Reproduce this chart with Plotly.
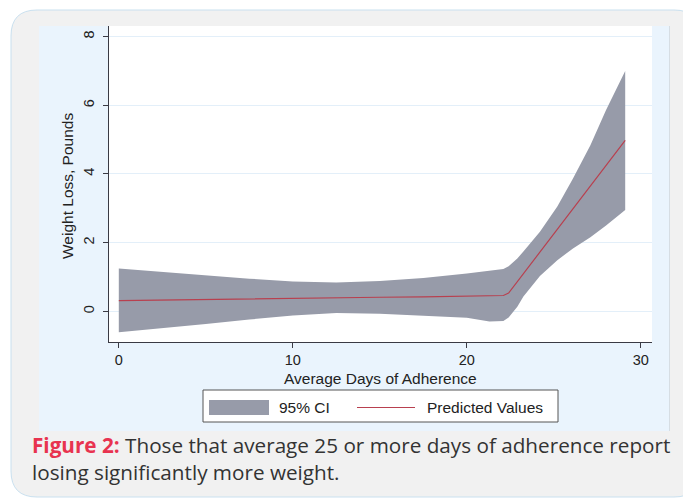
import plotly.graph_objects as go

# Average days of adherence (x) with the fitted prediction and its 95% CI
days = [0, 2.5, 5, 7.5, 10, 12.5, 15, 17.5, 20, 21.3, 22.1, 22.4, 22.9,
        23.25, 24.2, 25.2, 26.1, 27.1, 28.0, 29.1]
predicted = [0.31, 0.33, 0.34, 0.36, 0.38, 0.39, 0.41, 0.42, 0.44, 0.45, 0.46, 0.53, 0.86,
             1.10, 1.73, 2.39, 2.99, 3.65, 4.25, 4.98]
ci_upper = [1.25, 1.15, 1.04, 0.95, 0.87, 0.84, 0.88, 0.97, 1.10, 1.18, 1.23, 1.31, 1.54,
            1.74, 2.32, 3.05, 3.87, 4.84, 5.86, 7.00]
ci_lower = [-0.61, -0.50, -0.37, -0.24, -0.12, -0.05, -0.07, -0.13, -0.19, -0.30, -0.28, -0.18, 0.13,
            0.43, 1.03, 1.49, 1.83, 2.16, 2.50, 2.95]

x_ticks = [0, 10, 20, 30]
y_ticks = [0, 2, 4, 6, 8]

x_title = "Average Days of Adherence"
y_title = "Weight Loss, Pounds"
legend_labels = ["95% CI", "Predicted Values"]
caption_lead = "Figure 2:"
caption_line1 = " Those that average 25 or more days of adherence report"
caption_line2 = "losing significantly more weight."

CI_FILL = "#979ba9"
LINE_RED = "#b8404f"
PANEL = "#eaf4fd"
CARD = "#f1f1f1"
GRID = "#e3eff9"
AXIS = "#3a3a44"

W, H = 683, 500
L, R, T, B = 109, 652, 26, 342   # plot area in pixels


def px_x(p):
    return (p - L) / (R - L)


def px_y(p):
    return (B - p) / (B - T)


fig = go.Figure()

fig.add_trace(go.Scatter(x=days, y=ci_lower, mode="lines", line=dict(width=0),
                         hoverinfo="skip", showlegend=False))
fig.add_trace(go.Scatter(x=days, y=ci_upper, mode="lines", line=dict(width=0),
                         fill="tonexty", fillcolor=CI_FILL, name=legend_labels[0],
                         showlegend=False))
fig.add_trace(go.Scatter(x=days, y=predicted, mode="lines",
                         line=dict(color=LINE_RED, width=1.2),
                         name=legend_labels[1], showlegend=False))

shapes = []
# rounded card behind everything
x0, y0, x1, y1, r = px_x(11), px_y(10), px_x(700), px_y(497), 26
rx = r / (R - L)
ry = r / (B - T)
card_path = (f"M {x0 + rx} {y0} L {x1 - rx} {y0} Q {x1} {y0} {x1} {y0 - ry} "
             f"L {x1} {y1 + ry} Q {x1} {y1} {x1 - rx} {y1} "
             f"L {x0 + rx} {y1} Q {x0} {y1} {x0} {y1 + ry} "
             f"L {x0} {y0 - ry} Q {x0} {y0} {x0 + rx} {y0} Z")
shapes.append(dict(type="path", xref="paper", yref="paper", path=card_path,
                   fillcolor=CARD, line=dict(color="#c9e0ef", width=1), layer="below"))
# light blue graph region
shapes.append(dict(type="rect", xref="paper", yref="paper",
                   x0=px_x(39), x1=px_x(669), y0=px_y(431), y1=px_y(26),
                   fillcolor=PANEL, line=dict(width=0), layer="below"))
shapes.append(dict(type="line", xref="paper", yref="paper",
                   x0=px_x(669.5), x1=px_x(669.5), y0=px_y(431), y1=px_y(26),
                   line=dict(color="#d6dde3", width=1), layer="below"))
# white plotting region
shapes.append(dict(type="rect", xref="paper", yref="paper",
                   x0=0, x1=1, y0=0, y1=1,
                   fillcolor="white", line=dict(width=0), layer="below"))
# legend box
shapes.append(dict(type="rect", xref="paper", yref="paper",
                   x0=px_x(203), x1=px_x(558), y0=px_y(422), y1=px_y(390),
                   fillcolor="white", line=dict(color="#555", width=1)))
shapes.append(dict(type="rect", xref="paper", yref="paper",
                   x0=px_x(209), x1=px_x(269), y0=px_y(415), y1=px_y(400),
                   fillcolor=CI_FILL, line=dict(width=0)))
shapes.append(dict(type="line", xref="paper", yref="paper",
                   x0=px_x(357), x1=px_x(415), y0=px_y(407.5), y1=px_y(407.5),
                   line=dict(color=LINE_RED, width=1.2)))

tick_font = dict(family="Liberation Sans, Arial, sans-serif", size=14.5, color="#222")
label_font = dict(family="Liberation Sans, Arial, sans-serif", size=15.5, color="#222")
caption_font = dict(family="Open Sans, sans-serif", size=20.7, color="#333")

annotations = [
    dict(text=x_title, x=px_x(380), y=px_y(378), xref="paper", yref="paper",
         showarrow=False, xanchor="center", yanchor="middle", font=label_font),
    dict(text=y_title, x=px_x(67), y=px_y(186), xref="paper", yref="paper",
         showarrow=False, xanchor="center", yanchor="middle", textangle=-90,
         font=label_font),
    dict(text=legend_labels[0], x=px_x(277), y=px_y(407), xref="paper", yref="paper",
         showarrow=False, xanchor="left", yanchor="middle", font=label_font),
    dict(text=legend_labels[1], x=px_x(425), y=px_y(407), xref="paper", yref="paper",
         showarrow=False, xanchor="left", yanchor="middle", font=label_font),
    dict(text=f"<span style='color:#e8334f'><b>{caption_lead}</b></span>{caption_line1}",
         x=px_x(30), y=px_y(445), xref="paper", yref="paper", showarrow=False,
         xanchor="left", yanchor="middle", font=caption_font),
    dict(text=caption_line2,
         x=px_x(30), y=px_y(472), xref="paper", yref="paper", showarrow=False,
         xanchor="left", yanchor="middle", font=caption_font),
]

fig.update_layout(
    width=W, height=H,
    margin=dict(l=L, r=W - R, t=T, b=H - B, pad=0),
    paper_bgcolor="white",
    plot_bgcolor="white",
    shapes=shapes,
    annotations=annotations,
    showlegend=False,
)

fig.update_xaxes(range=[-0.563, 30.64], tickvals=x_ticks, showgrid=False, zeroline=False,
                 showline=True, linecolor=AXIS, linewidth=1,
                 ticks="outside", ticklen=5, tickcolor=AXIS, tickfont=tick_font)
fig.update_yaxes(range=[-0.894, 8.31], tickvals=y_ticks, showgrid=True, gridcolor=GRID,
                 gridwidth=1, zeroline=False, showline=True, linecolor=AXIS, linewidth=1,
                 ticks="outside", ticklen=5, tickcolor=AXIS, tickangle=-90,
                 ticklabelstandoff=3, tickfont=tick_font)

fig.write_html("out.html")
